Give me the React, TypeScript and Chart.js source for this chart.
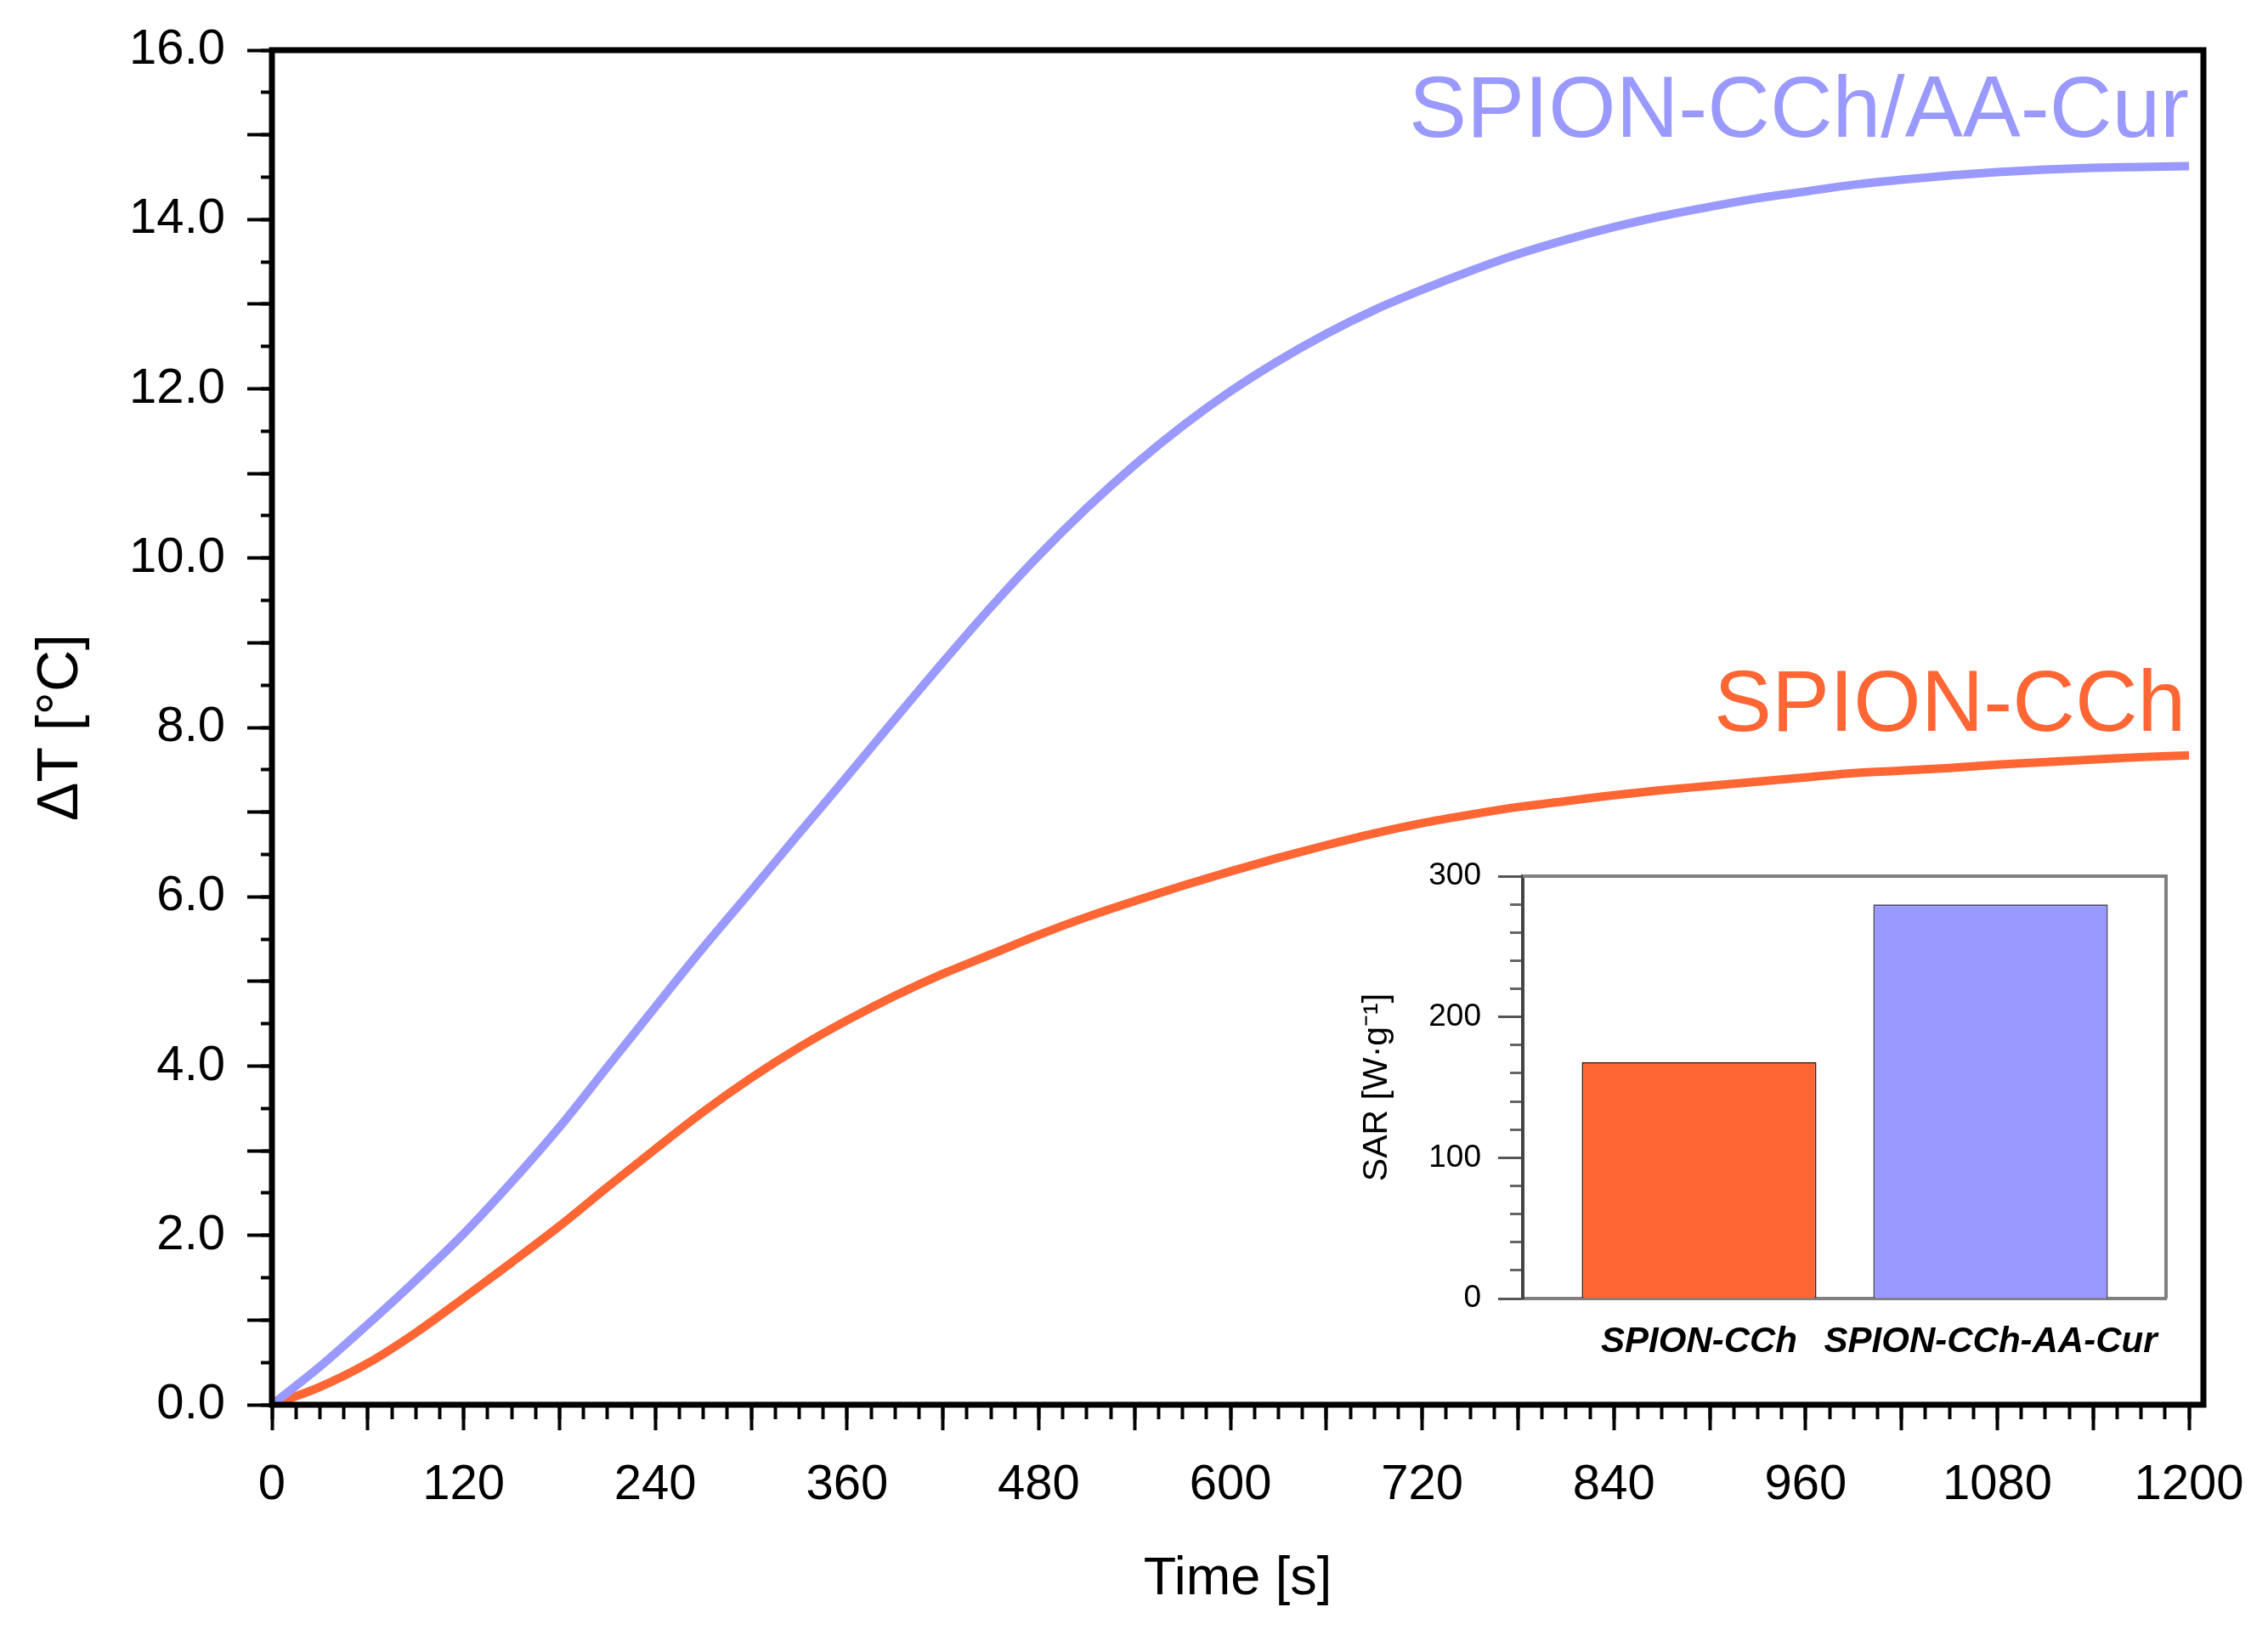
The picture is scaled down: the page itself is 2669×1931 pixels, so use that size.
import React, { useEffect, useRef } from 'react';
import { Chart, registerables } from 'chart.js';

Chart.register(...registerables);

// heating curves, every 30 s
const timeSeconds = [
  0, 30, 60, 90, 120, 150, 180, 210, 240, 270, 300, 330, 360, 390, 420, 450, 480, 510, 540, 570, 600,
  630, 660, 690, 720, 750, 780, 810, 840, 870, 900, 930, 960, 990, 1020, 1050, 1080, 1110, 1140, 1170, 1200,
];
const deltaTCurcumin = [
  0, 0.45, 0.95, 1.47, 2.02, 2.63, 3.28, 3.99, 4.7, 5.4, 6.07, 6.75, 7.42, 8.1, 8.77, 9.42, 10.03, 10.59, 11.1, 11.56, 11.97,
  12.33, 12.65, 12.93, 13.17, 13.39, 13.59, 13.76, 13.91, 14.04, 14.15, 14.25, 14.33, 14.41, 14.47, 14.52, 14.56, 14.59, 14.61, 14.62, 14.63,
];
const deltaTCch = [
  0, 0.21, 0.49, 0.85, 1.26, 1.68, 2.11, 2.57, 3.02, 3.46, 3.86, 4.22, 4.54, 4.83, 5.09, 5.32, 5.55, 5.76, 5.95, 6.13, 6.3,
  6.46, 6.61, 6.75, 6.87, 6.97, 7.06, 7.13, 7.2, 7.26, 7.31, 7.36, 7.41, 7.46, 7.49, 7.52, 7.56, 7.59, 7.62, 7.65, 7.67,
];
const seriesNames = ['SPION-CCh/AA-Cur', 'SPION-CCh'];

// inset: specific absorption rate
const sarCategories = ['SPION-CCh', 'SPION-CCh-AA-Cur'];
const sarValues = [168, 280];

// tick values
const xLabelTicks = [0, 120, 240, 360, 480, 600, 720, 840, 960, 1080, 1200];
const yLabelTicks = [0, 2, 4, 6, 8, 10, 12, 14, 16];
const sarTicks = [0, 100, 200, 300];

const ORANGE = '#FF6633';
const LAVENDER = '#9999FF';
const FONT = "'Liberation Sans', Arial, Helvetica, sans-serif";

const stepTicks = (min: number, max: number, step: number) => {
  const out: { value: number }[] = [];
  for (let v = min; v <= max + 1e-9; v += step) out.push({ value: +v.toFixed(3) });
  return out;
};

// fixed axis size, and no extra label padding pushed into the layout
const fixSize = (size: number) => (s: any) => {
  if (s.isHorizontal()) s.height = size;
  else s.width = size;
  s.paddingTop = 0;
  s.paddingBottom = 0;
  s.paddingLeft = 0;
  s.paddingRight = 0;
};

const frameBox = {
  id: 'frameBox',
  afterDatasetsDraw(chart: any, _args: any, opts: any) {
    const { ctx, chartArea } = chart;
    const { left, right, top, bottom } = chartArea;
    ctx.save();
    ctx.strokeStyle = opts.color;
    ctx.lineWidth = opts.width;
    ctx.beginPath();
    if (opts.all) {
      ctx.rect(left, top, right - left, bottom - top);
    } else {
      ctx.moveTo(left, top);
      ctx.lineTo(right, top);
      ctx.lineTo(right, bottom);
    }
    ctx.stroke();
    ctx.restore();
  },
};

const curveLabels = {
  id: 'curveLabels',
  afterDatasetsDraw(chart: any, _args: any, opts: any) {
    if (!opts.items) return;
    const { ctx, scales } = chart;
    ctx.save();
    ctx.font = `${opts.size}px ${FONT}`;
    ctx.textAlign = 'right';
    ctx.textBaseline = 'alphabetic';
    opts.items.forEach((item: any) => {
      ctx.fillStyle = item.color;
      ctx.fillText(item.text, scales.x.getPixelForValue(item.x), scales.y.getPixelForValue(item.y));
    });
    ctx.restore();
  },
};

const App = () => {
  const mainRef = useRef<HTMLCanvasElement>(null);
  const insetRef = useRef<HTMLCanvasElement>(null);

  useEffect(() => {
    const tickFont = { family: FONT, size: 58 };

    const main = new Chart(mainRef.current as HTMLCanvasElement, {
      type: 'line',
      data: {
        datasets: [
          {
            label: seriesNames[0],
            data: timeSeconds.map((t, i) => ({ x: t, y: deltaTCurcumin[i] })),
            borderColor: LAVENDER,
            borderWidth: 10,
            pointRadius: 0,
            cubicInterpolationMode: 'monotone',
          },
          {
            label: seriesNames[1],
            data: timeSeconds.map((t, i) => ({ x: t, y: deltaTCch[i] })),
            borderColor: ORANGE,
            borderWidth: 10,
            pointRadius: 0,
            cubicInterpolationMode: 'monotone',
          },
        ],
      },
      options: {
        animation: false,
        responsive: false,
        devicePixelRatio: 1,
        layout: { padding: { top: 59, right: 76, left: 0, bottom: 0 } },
        plugins: {
          legend: { display: false },
          tooltip: { enabled: false },
          frameBox: { color: '#000', width: 7, all: true },
          curveLabels: {
            size: 102,
            items: [
              { text: seriesNames[0], color: LAVENDER, x: 1200, y: 14.98 },
              { text: seriesNames[1], color: ORANGE, x: 1198, y: 7.96 },
            ],
          },
        } as any,
        scales: {
          xMinor: {
            type: 'linear',
            position: 'bottom',
            weight: 0,
            min: 0,
            max: 1209,
            afterBuildTicks: (s: any) => { s.ticks = stepTicks(0, 1200, 15); },
            afterFit: fixSize(0),
            ticks: { display: false },
            grid: { drawOnChartArea: false, tickLength: 17, tickWidth: 4, tickColor: '#000' },
            border: { display: false },
          },
          x: {
            type: 'linear',
            position: 'bottom',
            weight: 1,
            min: 0,
            max: 1209,
            afterBuildTicks: (s: any) => { s.ticks = stepTicks(0, 1200, 60); },
            afterFit: fixSize(278),
            ticks: {
              autoSkip: false,
              maxRotation: 0,
              padding: 30,
              color: '#000',
              font: tickFont,
              callback: (v: any) => (xLabelTicks.includes(Number(v)) ? String(v) : ''),
            },
            grid: { drawOnChartArea: false, tickLength: 30, tickWidth: 4, tickColor: '#000' },
            border: { display: false },
            title: {
              display: true,
              text: 'Time [s]',
              color: '#000',
              font: { family: FONT, size: 63 },
              padding: { top: 0, bottom: 35 },
            },
          },
          yMinor: {
            type: 'linear',
            position: 'left',
            weight: 0,
            min: 0,
            max: 16,
            afterBuildTicks: (s: any) => { s.ticks = stepTicks(0, 16, 0.5); },
            afterFit: fixSize(0),
            ticks: { display: false },
            grid: { drawOnChartArea: false, tickLength: 13, tickWidth: 4, tickColor: '#000' },
            border: { display: false },
          },
          y: {
            type: 'linear',
            position: 'left',
            weight: 1,
            min: 0,
            max: 16,
            afterBuildTicks: (s: any) => { s.ticks = stepTicks(0, 16, 1); },
            afterFit: fixSize(320),
            ticks: {
              autoSkip: false,
              padding: 26,
              color: '#000',
              font: tickFont,
              callback: (v: any) => (yLabelTicks.includes(Number(v)) ? Number(v).toFixed(1) : ''),
            },
            grid: { drawOnChartArea: false, tickLength: 29, tickWidth: 4, tickColor: '#000' },
            border: { display: false },
            title: {
              display: true,
              text: 'ΔT [°C]',
              color: '#000',
              font: { family: FONT, size: 68 },
              padding: { top: 31, bottom: 0 },
            },
          },
        } as any,
      },
      plugins: [frameBox, curveLabels],
    });

    const inset = new Chart(insetRef.current as HTMLCanvasElement, {
      type: 'bar',
      data: {
        datasets: [
          {
            data: sarValues.map((v, i) => ({ x: i, y: v })),
            backgroundColor: [ORANGE, LAVENDER],
            borderColor: ['#4a2010', '#4a4a70'],
            borderWidth: 2,
            categoryPercentage: 1,
            barPercentage: 0.805,
          } as any,
        ],
      },
      options: {
        animation: false,
        responsive: false,
        devicePixelRatio: 1,
        layout: { padding: { top: 31, right: 21, left: 0, bottom: 0 } },
        plugins: {
          legend: { display: false },
          tooltip: { enabled: false },
          frameBox: { color: '#808080', width: 4, all: false },
        } as any,
        scales: {
          x: {
            type: 'linear',
            offset: false,
            min: -0.605,
            max: 1.602,
            afterBuildTicks: (s: any) => { s.ticks = sarCategories.map((_, i) => ({ value: i })); },
            afterFit: fixSize(92),
            ticks: {
              autoSkip: false,
              maxRotation: 0,
              padding: 26,
              color: '#000',
              font: { family: FONT, size: 42, weight: 'bold', style: 'italic' },
              callback: (v: any) => sarCategories[Number(v)] ?? '',
            },
            grid: { display: false, drawTicks: false, offset: false },
            border: { display: true, color: '#808080', width: 4 },
          },
          yMinor: {
            type: 'linear',
            position: 'left',
            weight: 0,
            min: 0,
            max: 300,
            afterBuildTicks: (s: any) => { s.ticks = stepTicks(0, 300, 20); },
            afterFit: fixSize(0),
            ticks: { display: false },
            grid: { drawOnChartArea: false, tickLength: 15, tickWidth: 3, tickColor: '#666' },
            border: { display: false },
          },
          y: {
            type: 'linear',
            position: 'left',
            weight: 1,
            min: 0,
            max: 300,
            afterBuildTicks: (s: any) => { s.ticks = sarTicks.map((v) => ({ value: v })); },
            afterFit: fixSize(232),
            ticks: {
              autoSkip: false,
              padding: 20,
              color: '#000',
              font: { family: FONT, size: 37 },
            },
            grid: { drawOnChartArea: false, tickLength: 29, tickWidth: 3, tickColor: '#555' },
            border: { display: true, color: '#444', width: 4 },
            title: {
              display: true,
              text: 'SAR [W·g⁻¹]',
              color: '#000',
              font: { family: FONT, size: 41 },
              padding: { top: 36, bottom: 0 },
            },
          },
        } as any,
      },
      plugins: [frameBox],
    });

    return () => {
      main.destroy();
      inset.destroy();
    };
  }, []);

  return (
    <div style={{ position: 'absolute', left: 0, top: 0, width: 2669, height: 1931, background: '#fff' }}>
      <canvas ref={mainRef} width={2669} height={1931} style={{ display: 'block' }} />
      <canvas
        ref={insetRef}
        width={1010}
        height={620}
        style={{ position: 'absolute', left: 1560, top: 1000, display: 'block' }}
      />
    </div>
  );
};

export default App;
